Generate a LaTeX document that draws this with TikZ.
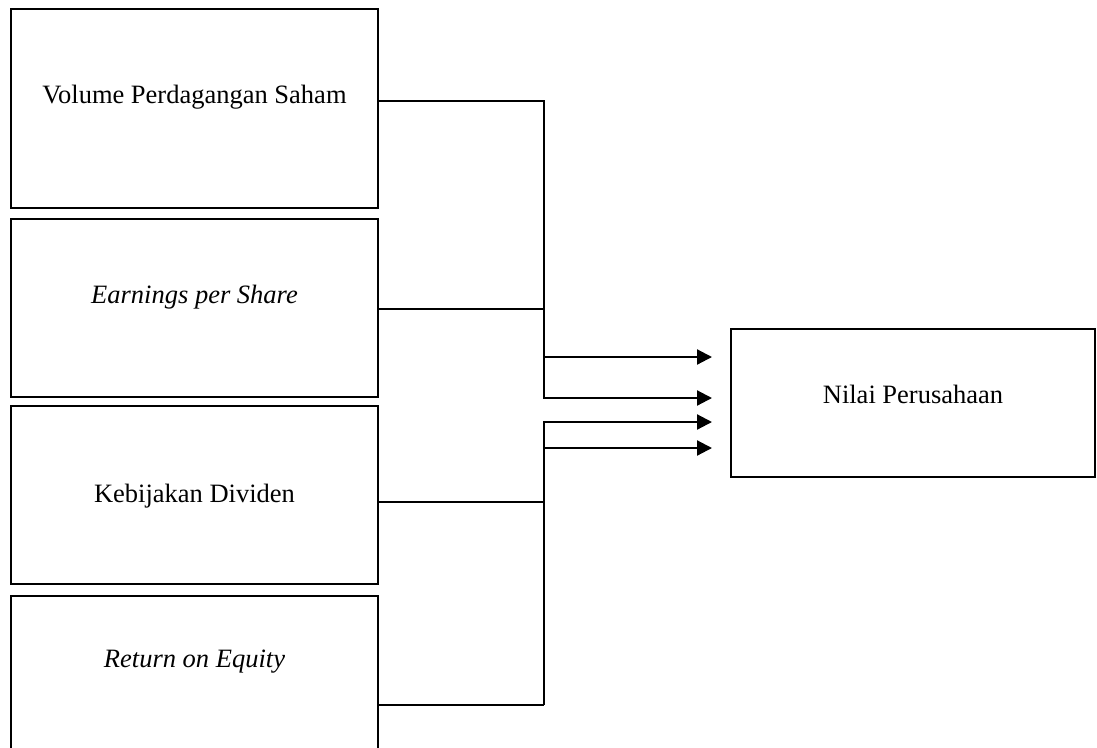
\documentclass[tikz,border=0pt]{standalone}
\usepackage{fontspec}
\setmainfont{Liberation Serif}
\usetikzlibrary{arrows.meta}
\begin{document}
\begin{tikzpicture}[x=1pt,y=-1pt,
  box/.style={draw=black,line width=2.4pt,inner sep=0pt},
  lbl/.style={font=\fontsize{26.5}{32}\selectfont,inner sep=0pt,anchor=center},
  conn/.style={draw=black,line width=2.2pt},
  arr/.style={conn,-{Triangle[length=15pt,width=15pt]}}]
\clip (0,0) rectangle (1097,747);
\fill[white] (0,0) rectangle (1097,747);
% boxes
\node[box,minimum width=367pt,minimum height=199pt] (b1) at (194.5,108.5) {};
\node[box,minimum width=367pt,minimum height=178pt] (b2) at (194.5,308) {};
\node[box,minimum width=367pt,minimum height=178pt] (b3) at (194.5,495) {};
\node[box,minimum width=367pt,minimum height=200pt] (b4) at (194.5,696) {};
\node[box,minimum width=364pt,minimum height=148pt] (b5) at (913,403) {};
% texts
\node[lbl] (t1) at (194.5,97) {Volume Perdagangan Saham};
\node[lbl] (t2) at (194.5,297) {\itshape Earnings per Share};
\node[lbl] (t3) at (194.5,496) {Kebijakan Dividen};
\node[lbl] (t4) at (194.5,662) {\itshape Return on Equity};
\node[lbl] (t5) at (913,394) {Nilai Perusahaan};
% junction coordinates
\coordinate (u1) at (544,101);
\coordinate (u2) at (544,309);
\coordinate (u3) at (544,357);
\coordinate (u4) at (544,398);
\coordinate (l1) at (544,422);
\coordinate (l2) at (544,448);
\coordinate (l3) at (544,502);
\coordinate (l4) at (544,705);
\coordinate (e1) at (712,357);
\coordinate (e2) at (712,398);
\coordinate (e3) at (712,422);
\coordinate (e4) at (712,448);
% upper group
\draw[arr,line join=miter] (b1.east |- u1) -- (u1) -- (u4) -- (e2);
\draw[conn] (b2.east |- u2) -- (u2);
\draw[arr] (u3) -- (e1);
% lower group
\draw[arr,line join=miter] (l4) -- (l1) -- (e3);
\draw[arr] (l2) -- (e4);
\draw[conn] (b3.east |- l3) -- (l3);
\draw[conn] (b4.east |- l4) -- (l4);
\end{tikzpicture}
\end{document}
